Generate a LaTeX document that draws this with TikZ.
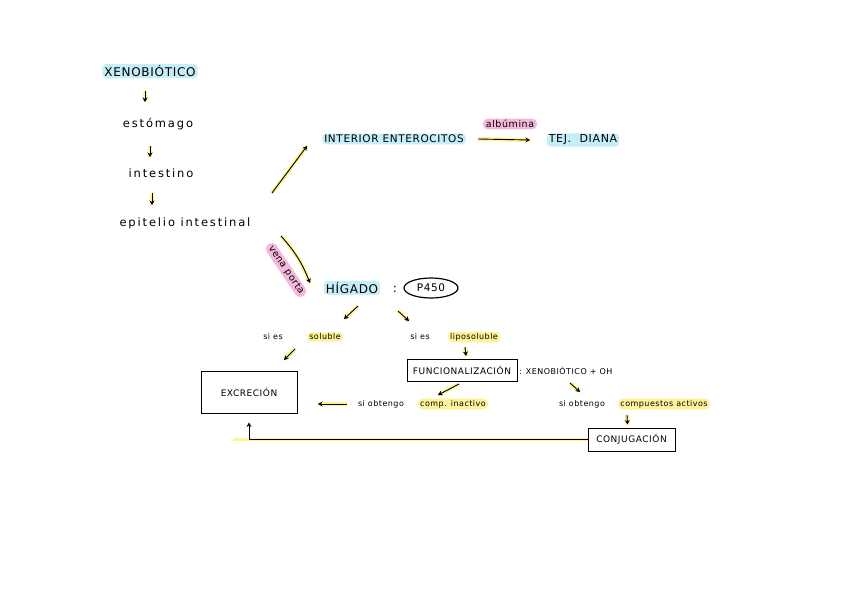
\documentclass[tikz,border=0pt]{standalone}
\usepackage{fontspec}
\setmainfont[LetterSpace=6]{DejaVu Sans}
\newfontfamily\handw[LetterSpace=16]{DejaVu Sans}
\usetikzlibrary{arrows.meta,shapes.geometric}
\definecolor{bhl}{HTML}{C6EEF8}
\definecolor{yhl}{HTML}{FFF39A}
\definecolor{phl}{HTML}{F6B8DA}
\tikzset{
  txt/.style={inner sep=1pt, font=\fontsize{8}{9}\selectfont},
  big/.style={inner sep=1pt, font=\handw\fontsize{11.5}{12}\selectfont},
  capt/.style={inner sep=1pt, font=\fontsize{#1}{12}\selectfont},
  bluehl/.style={fill=bhl, rounded corners=4pt, inner xsep=2pt, inner ysep=1.5pt},
  yelhl/.style={fill=yhl, rounded corners=4pt, inner xsep=2pt, inner ysep=1.5pt},
  pinkhl/.style={fill=phl, rounded corners=5pt, inner xsep=3pt, inner ysep=1.5pt},
  boxn/.style={draw, line width=1pt, inner xsep=5pt, inner ysep=4pt, font=\fontsize{9}{10}\selectfont},
  arr/.style={-{Stealth[length=4.5pt,width=5pt]}, line width=0.9pt,
     preaction={draw=yhl, line width=4pt, -}},
}
\begin{document}
\begin{tikzpicture}[x=1pt,y=-1pt]
\useasboundingbox (0,0) rectangle (848,599);
% left column
\node[capt=12,bluehl] (xeno) at (150,71) {XENOBIÓTICO};
\node[big] (est) at (158,124) {estómago};
\node[big] (intes) at (161,173) {intestino};
\node[big] (epi) at (185,223) {epitelio intestinal};
\draw[arr] ([shift={(-5,20)}]xeno.center) -- ([shift={(-13,-22)}]est.center);
\draw[arr] ([shift={(-8,22)}]est.center) -- ([shift={(-11,-16)}]intes.center);
\draw[arr] ([shift={(-9,20)}]intes.center) -- ([shift={(-33,-18)}]epi.center);
% enterocitos branch
\node[capt=10.5,bluehl] (enter) at (394,139) {INTERIOR ENTEROCITOS};
\node[capt=11,bluehl] (diana) at (583,140) {TEJ.\ \ DIANA};
\node[capt=9.5,pinkhl] (alb) at (510,124) {albúmina};
\draw[arr] ([shift={(87,-30)}]epi.center) -- ([shift={(-87,7)}]enter.center);
\draw[arr] ([shift={(84,0)}]enter.center) -- ([shift={(-53,0)}]diana.center);
% hígado
\node[capt=12,bluehl] (hig) at (352,288) {HÍGADO};
\node[capt=12] (colon) at (395,289) {:};
\node[draw,line width=1.2pt,ellipse,minimum width=54pt,minimum height=20pt,inner sep=0pt,font=\fontsize{10.5}{11}\selectfont] (p450) at (431,288) {P450};
\draw[arr] ([shift={(96,13)}]epi.center) to[bend left=10] ([shift={(-42,-5)}]hig.center);
\node[capt=9.5,pinkhl,rotate=-56] (vena) at (286,270) {vena porta};
% branches
\node[txt] (siA) at (273,337) {si es};
\node[txt,yelhl] (sol) at (325,337) {soluble};
\node[txt] (siB) at (420,337) {si es};
\node[txt,yelhl] (lipo) at (474,337) {liposoluble};
\draw[arr] ([shift={(6,18)}]hig.center) -- ([shift={(19,-18)}]sol.center);
\draw[arr] ([shift={(-33,23)}]p450.center) -- ([shift={(-65,-16)}]lipo.center);
% boxes
\node[boxn,minimum width=96pt,minimum height=42pt] (exc) at (249,392) {EXCRECIÓN};
\node[boxn,minimum width=110pt,minimum height=22pt] (func) at (462,370) {FUNCIONALIZACIÓN};
\node[txt,anchor=west] (xoh) at (518,371) {: XENOBIÓTICO + OH};
\node[boxn,minimum width=87pt,minimum height=23pt] (conj) at (631.5,439.5) {CONJUGACIÓN};
\draw[arr] ([shift={(-30,12)}]sol.center) -- ([shift={(35,-32)}]exc.center);
\draw[arr] ([shift={(-9,10)}]lipo.center) -- ([shift={(4,-14)}]func.center);
% inactivo
\node[txt] (obtA) at (381,404) {si obtengo};
\node[txt,yelhl] (inac) at (453,404) {comp. inactivo};
\draw[arr] ([shift={(-3,14)}]func.center) -- ([shift={(-15,-9)}]inac.center);
\draw[arr] ([shift={(-34,0)}]obtA.center) -- ([shift={(69,12)}]exc.center);
% activos
\node[txt] (obtB) at (582,404) {si obtengo};
\node[txt,yelhl] (act) at (664,404) {compuestos activos};
\draw[arr] ([shift={(52,12)}]xoh.west) -- ([shift={(-2,-12)}]obtB.center);
\draw[arr] ([shift={(-37,11)}]act.center) -- ([shift={(-4,-15)}]conj.center);
% return line
\draw[line width=3.5pt,yhl] (conj.west) -- ++(-355,0);
\draw[-{Stealth[length=4.5pt,width=5pt]}, line width=0.9pt] (conj.west) -| ([shift={(0,9)}]exc.south);
\end{tikzpicture}
\end{document}
